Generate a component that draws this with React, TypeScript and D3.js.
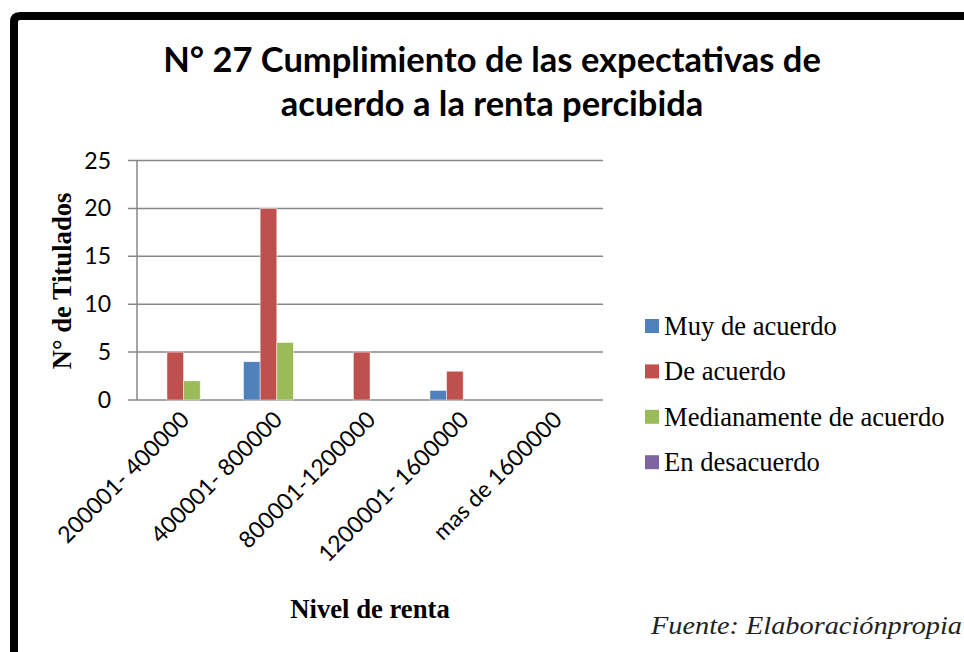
import { scaleBand, scaleLinear } from 'd3';

// Chart data
const categories = ['200001- 400000', '400001- 800000', '800001-1200000', '1200001- 1600000', 'mas de 1600000'];
const seriesNames = ['Muy de acuerdo', 'De acuerdo', 'Medianamente de acuerdo', 'En desacuerdo'];
const muyDeAcuerdo = [0, 4, 0, 1, 0];
const deAcuerdo = [5, 20, 5, 3, 0];
const medianamente = [2, 6, 0, 0, 0];
const enDesacuerdo = [0, 0, 0, 0, 0];
const yTicks = [0, 5, 10, 15, 20, 25];
const colors = ['#4F81BD', '#C0504D', '#9BBB59', '#8064A2'];

const seriesValues = [muyDeAcuerdo, deAcuerdo, medianamente, enDesacuerdo];

function App() {
    // Set dimensions
    const width = 964;
    const height = 652;
    const plot = { left: 137, right: 603, top: 160.5, bottom: 400 };

    // Set scales
    const x = scaleBand<string>().domain(categories).range([plot.left, plot.right]);
    const bw = x.bandwidth();
    const xInner = scaleBand<string>()
        .domain(seriesNames)
        .range([bw / 7, (bw * 6) / 7]);
    const y = scaleLinear().domain([0, 25]).range([plot.bottom, plot.top]);

    const calibri = 'Lato, Carlito, Calibri, sans-serif';
    const serif = '"Liberation Serif", "Times New Roman", serif';

    return (
        <svg
            width={width}
            height={height}
            style={{ position: 'absolute', left: 0, top: 0, background: '#fff' }}
        >
            {/* Frame */}
            <path d="M14 660 L14 22 Q14 16 20 16 L970 16" fill="none" stroke="#000" strokeWidth={8} />

            {/* Title */}
            <text x={492} textAnchor="middle" fontFamily={calibri} fontWeight="bold" fontSize={34.5} fill="#000">
                <tspan x={492} y={72}>N° 27 Cumplimiento de las expectativas de</tspan>
                <tspan x={492} y={116}>acuerdo a la renta percibida</tspan>
            </text>

            {/* Grid lines and y ticks */}
            {yTicks.map((t) => (
                <g key={t}>
                    <line x1={128} x2={plot.right} y1={y(t)} y2={y(t)} stroke="#878787" strokeWidth={1.5} />
                    <text
                        x={111}
                        y={y(t)}
                        dy="0.35em"
                        textAnchor="end"
                        fontFamily={calibri}
                        fontSize={23}
                        fill="#000"
                    >
                        {t}
                    </text>
                </g>
            ))}
            <line x1={plot.left} x2={plot.left} y1={plot.top} y2={plot.bottom} stroke="#878787" strokeWidth={1.5} />

            {/* Bars */}
            {seriesValues.map((vals, si) => (
                <g key={seriesNames[si]}>
                    {categories.map((c, ci) =>
                        vals[ci] > 0 ? (
                            <rect
                                key={c}
                                x={(x(c) ?? 0) + (xInner(seriesNames[si]) ?? 0)}
                                y={y(vals[ci])}
                                width={xInner.bandwidth()}
                                height={y(0) - y(vals[ci])}
                                fill={colors[si]}
                                stroke="#fff"
                                strokeOpacity={0.6}
                                strokeWidth={0.8}
                            />
                        ) : null
                    )}
                </g>
            ))}

            {/* X labels */}
            {categories.map((c) => {
                const cx = (x(c) ?? 0) + bw / 2 + 7;
                const cy = 421;
                return (
                    <text
                        key={c}
                        x={cx}
                        y={cy}
                        textAnchor="end"
                        transform={`rotate(-45, ${cx}, ${cy})`}
                        fontFamily={calibri}
                        fontSize={23}
                        fill="#000"
                    >
                        {c}
                    </text>
                );
            })}

            {/* Axis titles */}
            <text
                x={370}
                y={618}
                textAnchor="middle"
                fontFamily={serif}
                fontWeight="bold"
                fontSize={26.7}
                fill="#000"
            >
                Nivel de renta
            </text>
            <text
                transform="translate(71, 281) rotate(-90)"
                textAnchor="middle"
                fontFamily={serif}
                fontWeight="bold"
                fontSize={26.6}
                fill="#000"
            >
                N° de Titulados
            </text>

            {/* Legend */}
            {seriesNames.map((s, i) => {
                const ly = 326 + i * 45.4;
                return (
                    <g key={s}>
                        <rect x={645} y={ly - 7} width={14} height={14} fill={colors[i]} />
                        <text x={664} y={ly} dy="0.33em" fontFamily={serif} fontSize={26.6} fill="#000">
                            {s}
                        </text>
                    </g>
                );
            })}

            {/* Source */}
            <text
                x={651}
                y={634}
                fontFamily={serif}
                fontStyle="italic"
                fontSize={26}
                fill="#222"
                textLength={311}
                lengthAdjust="spacingAndGlyphs"
            >
                Fuente: Elaboraciónpropia
            </text>
        </svg>
    );
}

export default App;
